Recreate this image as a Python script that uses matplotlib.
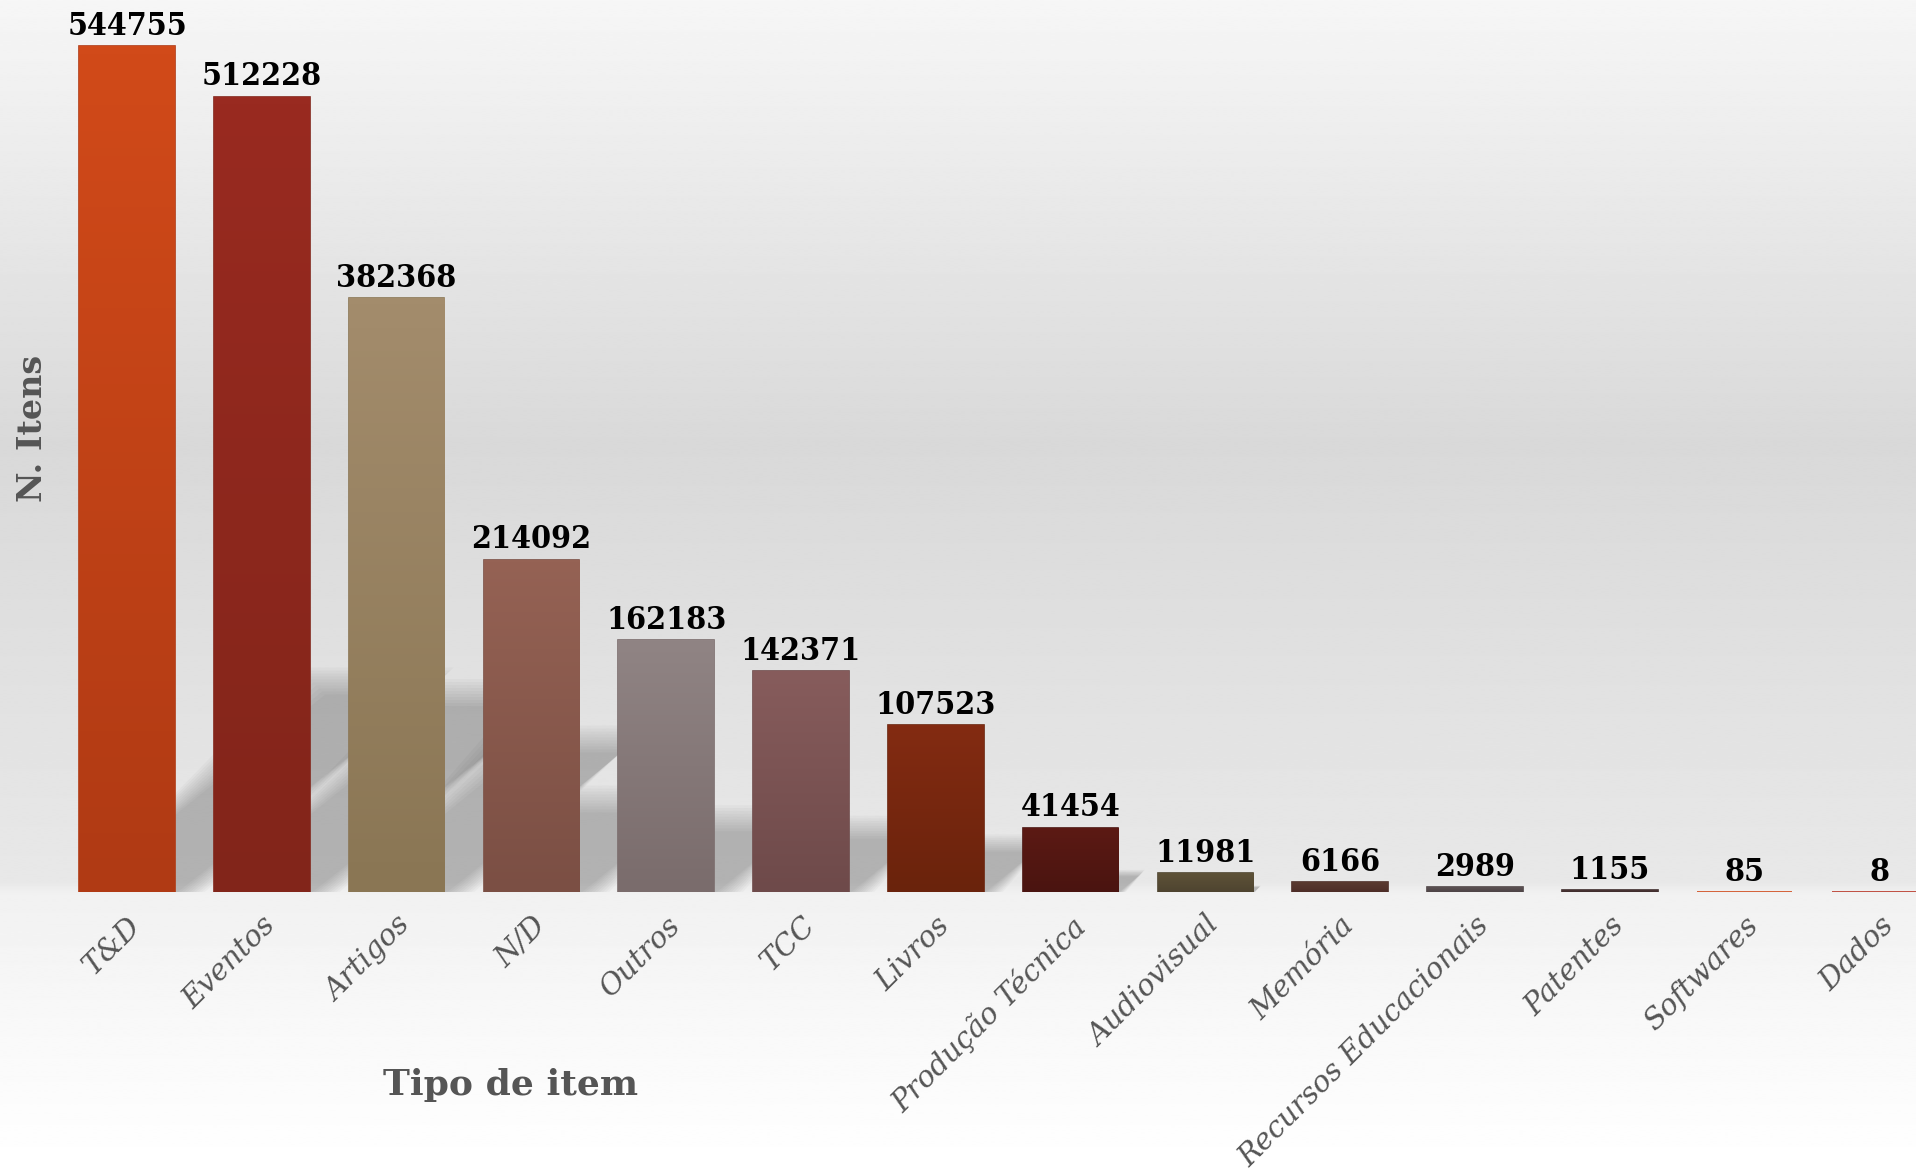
import numpy as np
import matplotlib
matplotlib.use('Agg')
import matplotlib.pyplot as plt
from matplotlib.colors import LinearSegmentedColormap, to_rgb
from matplotlib.patches import Polygon

categorias = ['T&D', 'Eventos', 'Artigos', 'N/D', 'Outros', 'TCC', 'Livros',
              'Produção Técnica', 'Audiovisual', 'Memória', 'Recursos Educacionais',
              'Patentes', 'Softwares', 'Dados']
itens = [544755, 512228, 382368, 214092, 162183, 142371, 107523,
         41454, 11981, 6166, 2989, 1155, 85, 8]
cor_topo = ['#d14a19', '#992a20', '#a38c6c', '#956254', '#908484', '#875c5c', '#832b12',
            '#5c1a14', '#5e5238', '#5a3a30', '#5a5052', '#4a3434', '#e05020', '#c83a28']
cor_base = ['#b03a14', '#82251a', '#8a7654', '#7b4f44', '#7a6c6c', '#6e4a4a', '#6a230c',
            '#4a1410', '#4e4430', '#4e2e28', '#4e4446', '#3e2c2c', '#d04818', '#b83424']

W, H = 1916, 1169
fig = plt.figure(figsize=(W / 100, H / 100), dpi=100)

# fundo em degradê
bg = fig.add_axes([0, 0, 1, 1], zorder=-5)
bg.axis('off')
stops = [(0.0, 0.965), (0.38, 0.85), (0.755, 0.91), (0.765, 0.945), (0.88, 0.975), (1.0, 1.0)]
yy = np.linspace(0, 1, 600)
grad = np.interp(yy, [s[0] for s in stops], [s[1] for s in stops])
bg.imshow(np.repeat(grad[:, None], 2, axis=1), cmap='gray', vmin=0, vmax=1,
          aspect='auto', extent=[0, 1, 0, 1], interpolation='bilinear')
bg.set_xlim(0, 1)
bg.set_ylim(0, 1)

base_px = 892
ax = fig.add_axes([0, (H - base_px) / H, 1, base_px / H])
ax.patch.set_alpha(0)
ymax = itens[0] * base_px / 846
x0_px, passo = 127, 134.8
ax.set_xlim(-x0_px / passo, (W - x0_px) / passo)
ax.set_ylim(0, ymax)

x = np.arange(len(categorias))
largura = 0.71
barras = ax.bar(x, itens, width=largura, color=cor_topo, edgecolor=cor_base,
                linewidth=1.2, zorder=3)

# degradê em cada barra
for b, c1, c2 in zip(barras, cor_topo, cor_base):
    cmap = LinearSegmentedColormap.from_list('g', [to_rgb(c2), to_rgb(c1)])
    g = np.linspace(0, 1, 100)[:, None]
    im = ax.imshow(g, cmap=cmap, aspect='auto', origin='lower', zorder=3.5,
                   extent=[b.get_x(), b.get_x() + b.get_width(), 0, b.get_height()])
    im.set_clip_path(b)

# sombras diagonais
px_y = ymax / base_px
px_x = 1 / passo
for b in barras:
    h = b.get_height()
    sh = 0.23 * h
    sh_px = sh / px_y
    if sh_px < 4:
        continue
    dx = 1.28 * sh_px * px_x
    xa, xb = b.get_x(), b.get_x() + b.get_width()
    esc = min(1.0, sh_px / 60)
    n = 10
    for k in range(n):
        e = (n - k) * 3 * esc
        ex, ey = e * px_x, e * px_y
        pts = [(xa, 0), (xb + ex, 0), (xb + dx + ex, sh + ey), (xa + dx - ex, sh + ey)]
        ax.add_patch(Polygon(pts, closed=True, facecolor='black', edgecolor='none',
                             alpha=0.022, zorder=1))

for b, v in zip(barras, itens):
    ax.annotate(str(v), (b.get_x() + b.get_width() / 2, b.get_height()),
                xytext=(0, 3), textcoords='offset points', ha='center', va='bottom',
                fontsize=23, fontweight='bold', family='DejaVu Serif', fontstretch='condensed',
                color='black', zorder=5)

ax.set_xticks(x)
ax.set_xticklabels(categorias, rotation=45, ha='right', rotation_mode='anchor',
                   fontsize=21, fontstyle='italic', family='DejaVu Serif', color='#555555')
ax.tick_params(axis='x', length=0, pad=14)
ax.set_yticks([])
for s in ax.spines.values():
    s.set_visible(False)

fig.text(511 / W, 1 - 1085 / H, 'Tipo de item', ha='center', va='center', fontsize=26,
         fontweight='bold', family='DejaVu Serif', color='#555555')
fig.text(33 / W, 1 - 428 / H, 'N. Itens', ha='center', va='center', rotation=90, fontsize=24,
         fontweight='bold', family='DejaVu Serif', color='#555555')

fig.savefig('out.png', dpi=100)
